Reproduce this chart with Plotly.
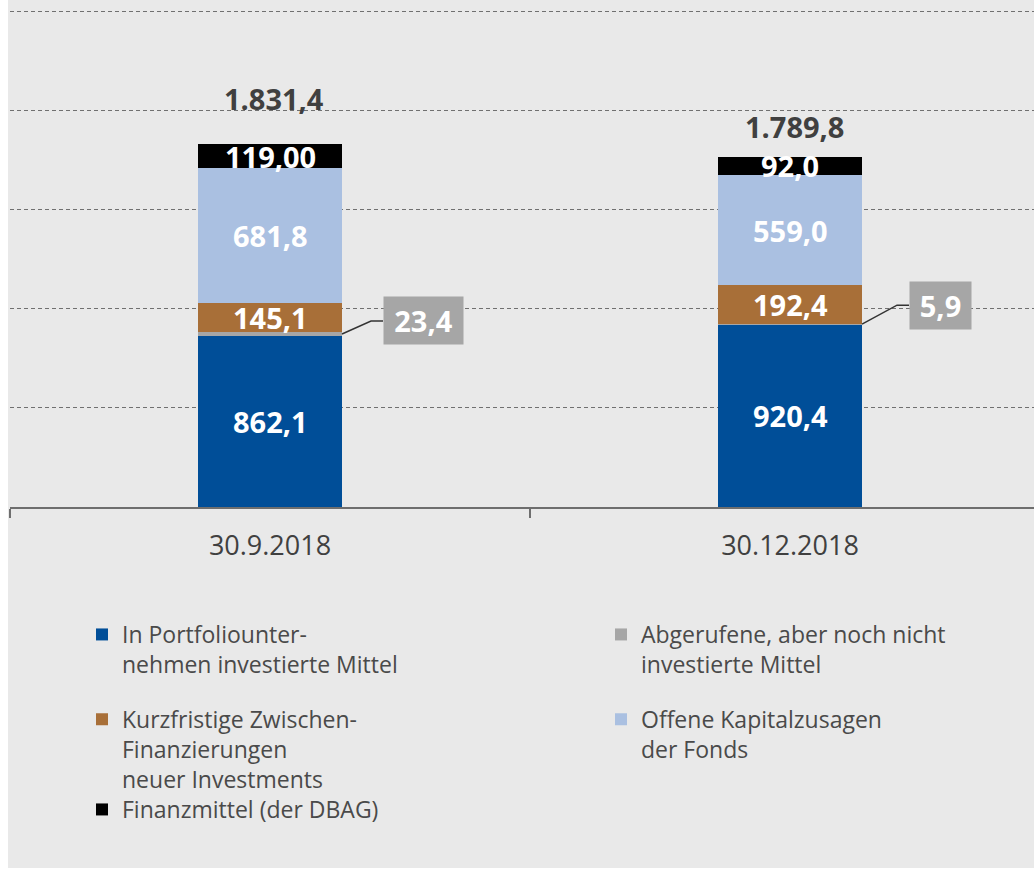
import plotly.graph_objects as go

categories = ["30.9.2018", "30.12.2018"]
series_names = [
    "In Portfoliounter-<br>nehmen investierte Mittel",
    "Abgerufene, aber noch nicht<br>investierte Mittel",
    "Kurzfristige Zwischen-<br>Finanzierungen<br>neuer Investments",
    "Offene Kapitalzusagen<br>der Fonds",
    "Finanzmittel (der DBAG)",
]
invested = [862.1, 920.4]
called = [23.4, 5.9]
bridge = [145.1, 192.4]
open_commit = [681.8, 559.0]
cash = [119.0, 92.0]
totals = [1831.4, 1789.8]

value_text = {
    "invested": ["862,1", "920,4"],
    "called": ["23,4", "5,9"],
    "bridge": ["145,1", "192,4"],
    "open": ["681,8", "559,0"],
    "cash": ["119,00", "92,0"],
}
total_text = ["1.831,4", "1.789,8"]

colors = ["#004e98", "#a6a6a6", "#a86f38", "#aac0e1", "#000000"]
legend_ids = ["legend", "legend2", "legend", "legend2", "legend3"]
groups = ["g1", "g3", "g2", "g4", "g5"]
BW = 0.277
FONT = "Open Sans"

series = [invested, called, bridge, open_commit, cash]
fig = go.Figure()
for name, vals, col, lg, grp in zip(series_names, series, colors, legend_ids, groups):
    fig.add_trace(go.Bar(
        x=categories, y=vals, name=name, marker=dict(color=col, line=dict(width=0)),
        width=BW, legend=lg, legendgroup=grp, hoverinfo="skip",
    ))

# in-bar labels
keys = ["invested", None, "bridge", "open", "cash"]
base = [0.0, 0.0]
for key, vals in zip(keys, series):
    for i in range(len(categories)):
        mid = base[i] + vals[i] / 2
        if key is not None:
            fig.add_annotation(x=i, y=mid, xref="x", yref="y", text=value_text[key][i],
                               showarrow=False, font=dict(family=FONT, size=29, color="white", weight="bold"),
                               yanchor="middle")
        base[i] += vals[i]

# total labels
total_shift = [46, 26]
for i, t in enumerate(totals):
    fig.add_annotation(x=i, y=t, xref="x", yref="y", text=total_text[i], showarrow=False,
                       font=dict(family=FONT, size=29, color="#404040", weight="bold"),
                       yanchor="middle", yshift=total_shift[i], xshift=4)

# callouts for called capital
box_dx = [41, 47]
box_dy = [13, 19]
box_w = [71, 53]
for i in range(len(categories)):
    gy = invested[i] + called[i] / 2
    fig.add_annotation(x=i + BW / 2, y=gy, xref="x", yref="y", text=value_text["called"][i],
                       showarrow=False, font=dict(family=FONT, size=29, color="white", weight="bold"),
                       bgcolor="#a6a6a6", borderpad=4, width=box_w[i],
                       xanchor="left", yanchor="middle", xshift=box_dx[i], yshift=box_dy[i])
    elbow = box_dx[i] - 12
    fig.add_shape(type="path", xref="x", yref="y", xsizemode="pixel", ysizemode="pixel",
                  xanchor=i + BW / 2, yanchor=gy,
                  path=f"M0,0 L{elbow},{box_dy[i]} L{box_dx[i]},{box_dy[i]}",
                  line=dict(color="#333333", width=1.5))

# gray background panel
fig.add_shape(type="rect", xref="paper", yref="paper", x0=-2 / 1024, x1=1.02,
              y0=-(868 - 507) / 507, y1=1.05, fillcolor="#e9e9e9", line=dict(width=0),
              layer="below")

LEG_Y = -(613 - 507) / 507
LEG3_Y = -(788 - 507) / 507
leg_font = dict(family=FONT, size=23, color="#4a4a4a")
fig.update_layout(
    width=1034, height=870,
    margin=dict(l=10, r=0, t=0, b=363),
    paper_bgcolor="white", plot_bgcolor="rgba(0,0,0,0)",
    barmode="stack", bargap=0,
    font=dict(family=FONT, color="#404040"),
    xaxis=dict(type="category", range=[-0.5, -0.5 + 1024 / 520], tickson="boundaries",
               ticks="outside", ticklen=9, tickwidth=1.5, tickcolor="#6e6e6e",
               showline=True, linecolor="#6e6e6e", linewidth=1.5, showgrid=False,
               ticklabelstandoff=14,
               tickfont=dict(family=FONT, size=27, color="#404040"), fixedrange=True),
    yaxis=dict(range=[0, 2560], dtick=500, showgrid=True, gridcolor="#707070",
               griddash="4px,3px", gridwidth=1, zeroline=False, showticklabels=False,
               fixedrange=True),
    legend=dict(x=(82 - 10) / 1024, y=LEG_Y, xanchor="left", yanchor="top",
                bgcolor="rgba(0,0,0,0)", traceorder="grouped", tracegroupgap=22, valign="top",
                font=leg_font),
    legend2=dict(x=(601 - 10) / 1024, y=LEG_Y, xanchor="left", yanchor="top",
                 bgcolor="rgba(0,0,0,0)", traceorder="grouped", tracegroupgap=22, valign="top",
                 font=leg_font),
    legend3=dict(x=(82 - 10) / 1024, y=LEG3_Y, xanchor="left", yanchor="top",
                 bgcolor="rgba(0,0,0,0)", traceorder="normal", valign="top",
                 font=leg_font),
    showlegend=True,
)

fig.write_html("out.html", config={"displayModeBar": False},
               post_script="document.body.style.margin='0';")
